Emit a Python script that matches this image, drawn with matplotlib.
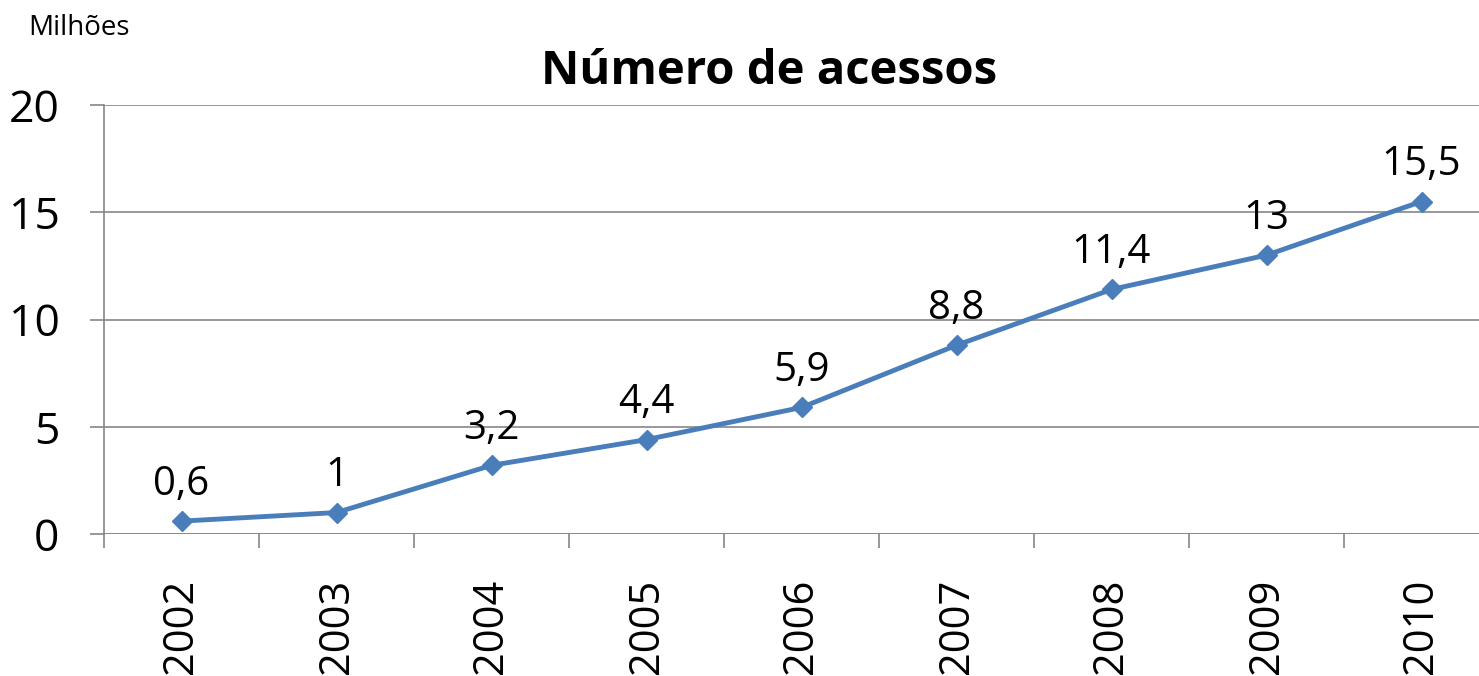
import matplotlib.pyplot as plt
import numpy as np

anos = ["2002", "2003", "2004", "2005", "2006", "2007", "2008", "2009", "2010"]
acessos = [0.6, 1, 3.2, 4.4, 5.9, 8.8, 11.4, 13, 15.5]
rotulos = ["0,6", "1", "3,2", "4,4", "5,9", "8,8", "11,4", "13", "15,5"]

plt.rcParams['font.family'] = ['Open Sans', 'DejaVu Sans']

fig = plt.figure(figsize=(14.79, 6.76), dpi=100)
# the plot area runs past the right edge, as in the original crop
ax = fig.add_axes([104/1479, 142/676, 1395/1479, 429/676])

x = np.arange(len(anos))
ax.plot(x, acessos, color="#4A7EBB", lw=3.5, marker="D", markersize=10, zorder=3)

for xi, yi, txt in zip(x, acessos, rotulos):
    ax.annotate(txt, (xi, yi), xytext=(0, 19), textcoords="offset points",
                ha="center", va="baseline", fontsize=29, color="black")

ax.set_xlim(-0.5, len(anos) - 0.5)
ax.set_ylim(0, 20)
ax.set_yticks([0, 5, 10, 15, 20])
ax.grid(axis="y", color="#868686", lw=1.2)
ax.set_axisbelow(True)

for s in ["top", "right", "bottom"]:
    ax.spines[s].set_visible(False)
ax.spines["left"].set_color("#868686")
ax.spines["left"].set_linewidth(1.2)

ax.tick_params(axis="y", length=10, width=1.2, color="#868686", pad=22, labelsize=32)
# labels at category centres, tick marks at the boundaries
ax.set_xticks(x)
ax.set_xticklabels(anos, rotation=90, fontsize=30)
ax.tick_params(axis="x", which="major", length=0, pad=32)
ax.set_xticks(np.arange(-0.5, len(anos), 1), minor=True)
ax.tick_params(axis="x", which="minor", length=10, width=1.2, color="#868686")
ax.axhline(0, color="#868686", lw=1.2, zorder=2)

fig.text(769/1479, 1 - 72/676, "Número de acessos", ha="center", va="center",
         fontsize=34, fontweight="bold")
fig.text(28/1479, 1 - 28/676, "Milhões", ha="left", va="center", fontsize=20)

fig.savefig("out.png", dpi=100)
